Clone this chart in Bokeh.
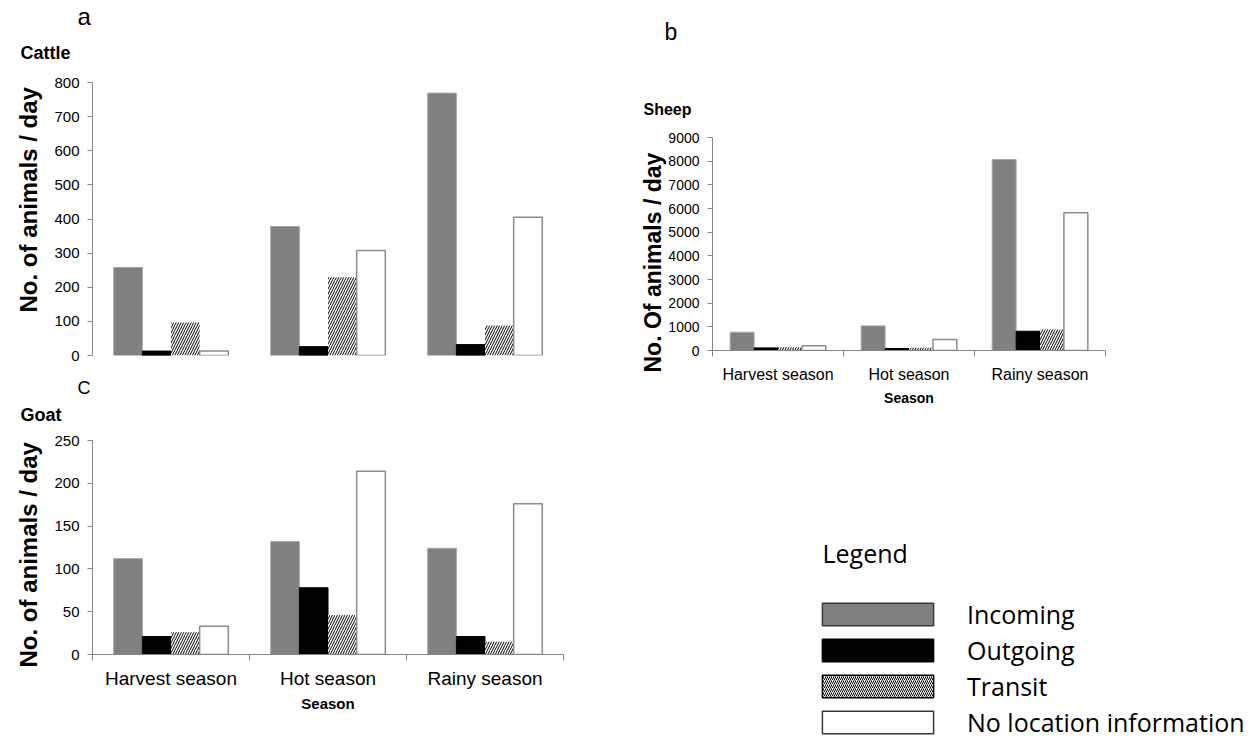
from bokeh.plotting import figure
from bokeh.models import Range1d, FixedTicker, SingleIntervalTicker, Legend, LegendItem, Title
from bokeh.layouts import row, column
from bokeh.embed import file_html
from bokeh.resources import INLINE

# ---------------- data ----------------
seasons = ["Harvest season", "Hot season", "Rainy season"]
series_names = ["Incoming", "Outgoing", "Transit", "No location information"]

cattle_incoming = [258, 378, 769]
cattle_outgoing = [13, 26, 32]
cattle_transit = [97, 229, 88]
cattle_noloc = [13, 308, 405]

sheep_incoming = [772, 1040, 8070]
sheep_outgoing = [110, 85, 815]
sheep_transit = [140, 120, 885]
sheep_noloc = [200, 460, 5820]

goat_incoming = [112, 132, 124]
goat_outgoing = [21, 78, 21]
goat_transit = [26, 46, 15]
goat_noloc = [33, 214, 176]

ARIAL = "Liberation Sans"
AXIS_GRAY = "#868686"

STYLES = [
    dict(fill_color="#808080", line_color="#a6a6a6", line_width=1),
    dict(fill_color="#000000", line_color="#000000", line_width=1),
    dict(fill_color="#ffffff", line_color=None, hatch_pattern="/", hatch_color="#000000",
         hatch_scale=5, hatch_weight=1),
    dict(fill_color="#ffffff", line_color="#8c8c8c", line_width=1.5),
]
LEGEND_STYLES = [
    dict(fill_color="#808080", line_color="#3a3a3a", line_width=1.5),
    dict(fill_color="#000000", line_color="#000000", line_width=1.5),
    dict(fill_color="#ffffff", line_color="#000000", line_width=1.5, hatch_pattern="/",
         hatch_color="#000000", hatch_scale=4, hatch_weight=1),
    dict(fill_color="#ffffff", line_color="#3a3a3a", line_width=1.5),
]

GROUP_W = 0.73


def blank_fig(width, height, mb):
    f = figure(width=width, height=height, output_backend="svg", toolbar_location=None,
               x_range=Range1d(0, 1), y_range=Range1d(0, 1), x_axis_type=None,
               y_axis_type=None, min_border_left=mb[0], min_border_right=mb[1],
               min_border_top=mb[2], min_border_bottom=mb[3])
    f.frame_align = False
    f.outline_line_color = None
    f.grid.visible = False
    return f


def make_panel(values, ymax, ystep, width, height, mb, show_x, tick_fs, cat_fs, season_fs,
               cat_standoff, season_standoff, ylabel, ylabel_fs, ylabel_offset,
               ylabel_standoff, name, name_fs, name_off, name_standoff,
               letter=None, letter_fs=18, letter_off=0, letter_standoff=0):
    p = figure(width=width, height=height, output_backend="svg", toolbar_location=None,
               x_range=Range1d(0, len(seasons)), y_range=Range1d(0, ymax),
               min_border_left=mb[0], min_border_right=mb[1], min_border_top=mb[2],
               min_border_bottom=mb[3], title=letter)
    p.frame_align = False
    p.outline_line_color = None
    p.grid.visible = False
    bw = GROUP_W / len(series_names)
    for i, vals in enumerate(values):
        off = -GROUP_W / 2 + bw * (i + 0.5)
        xs = [k + 0.5 + off for k in range(len(seasons))]
        p.vbar(x=xs, top=vals, bottom=0, width=bw, **STYLES[i])

    # panel letter (outer title) and panel name (inner title)
    if letter is not None:
        p.title.align = "left"
        p.title.offset = letter_off
        p.title.standoff = letter_standoff
        p.title.text_font = ARIAL
        p.title.text_font_style = "normal"
        p.title.text_font_size = f"{letter_fs}px"
        p.title.text_color = "#000000"
    p.add_layout(Title(text=name, align="left", offset=name_off, standoff=name_standoff,
                       text_font=ARIAL, text_font_style="bold",
                       text_font_size=f"{name_fs}px", text_color="#000000"), "above")

    ya = p.yaxis[0]
    ya.ticker = SingleIntervalTicker(interval=ystep, num_minor_ticks=0)
    ya.axis_line_color = AXIS_GRAY
    ya.major_tick_line_color = AXIS_GRAY
    ya.major_tick_out = 5
    ya.major_tick_in = 0
    ya.minor_tick_line_color = None
    ya.major_label_text_font = ARIAL
    ya.major_label_text_font_size = f"{tick_fs}px"
    ya.major_label_text_color = "#000000"
    ya.major_label_standoff = 8
    # y label as a vertical title on the left of the axis
    p.add_layout(Title(text=ylabel, align="left", offset=ylabel_offset, standoff=ylabel_standoff,
                       text_font=ARIAL, text_font_style="bold",
                       text_font_size=f"{ylabel_fs}px", text_color="#000000"), "left")

    xa = p.xaxis[0]
    if show_x:
        xa.ticker = FixedTicker(ticks=[k + 0.5 for k in range(len(seasons))],
                                minor_ticks=list(range(len(seasons) + 1)))
        xa.major_label_overrides = {k + 0.5: s for k, s in enumerate(seasons)}
        xa.axis_line_color = AXIS_GRAY
        xa.major_tick_line_color = None
        xa.major_tick_out = 0
        xa.major_tick_in = 0
        xa.minor_tick_line_color = AXIS_GRAY
        xa.minor_tick_out = 6
        xa.minor_tick_in = 0
        xa.major_label_text_font = ARIAL
        xa.major_label_text_font_size = f"{cat_fs}px"
        xa.major_label_text_color = "#000000"
        xa.major_label_standoff = cat_standoff
        xa.axis_label = "Season"
        xa.axis_label_text_font = ARIAL
        xa.axis_label_text_font_style = "bold"
        xa.axis_label_text_font_size = f"{season_fs}px"
        xa.axis_label_text_color = "#000000"
        xa.axis_label_standoff = season_standoff
    else:
        xa.visible = False
    return p


cattle = make_panel([cattle_incoming, cattle_outgoing, cattle_transit, cattle_noloc],
                    800, 100, 600, 370, (92, 37, 82, 15), False, 15, 19, 15, 10, 6,
                    "No. of animals / day", 24, 43, 19,
                    "Cattle", 18, -72, 39, "a", 24, -15, -16)

goat = make_panel([goat_incoming, goat_outgoing, goat_transit, goat_noloc],
                  250, 50, 600, 369, (92, 37, 70, 85), True, 15, 19, 15, 7, 3,
                  "No. of animals / day", 24, -13, 19,
                  "Goat", 18, -72, 32, "C", 18, -15, -22)

# panel letter "b" sits in its own blank strip above the sheep panel
bfig = blank_fig(654, 60, (0, 0, 50, 0))
bfig.add_layout(Title(text="b", align="left", offset=64, standoff=11,
                      text_font=ARIAL, text_font_style="normal", text_font_size="23px",
                      text_color="#000000"), "above")

sheep = make_panel([sheep_incoming, sheep_outgoing, sheep_transit, sheep_noloc],
                   9000, 1000, 654, 360, (112, 149, 77, 70), True, 14, 16, 14, 9, 4,
                   "No. Of animals / day", 23, -22, 0,
                   "Sheep", 16, -69, 40)

# legend panel (hidden proxy bars; only the legend shows their style)
lg = blank_fig(654, 319, (0, 0, 160, 0))
lg.add_layout(Title(text="Legend", align="left", offset=222, standoff=22,
                    text_font="Open Sans", text_font_style="normal", text_font_size="25px",
                    text_color="#000000"), "above")
items = []
for i, name in enumerate(series_names):
    r = lg.vbar(x=[-5], top=[-5], bottom=-5, width=0, **LEGEND_STYLES[i])
    r.visible = False
    items.append(LegendItem(label=name, renderers=[r]))
legend = Legend(items=items, location=(208, 0), glyph_width=139, glyph_height=28,
                label_standoff=20, spacing=2, padding=0, margin=0,
                border_line_color=None, background_fill_alpha=0,
                inactive_fill_alpha=0,
                label_text_font="Open Sans", label_text_font_size="25px",
                label_text_color="#000000")
lg.add_layout(legend)

layout = row(column(cattle, goat), column(bfig, sheep, lg))

open("out.html", "w").write(file_html(layout, INLINE))
